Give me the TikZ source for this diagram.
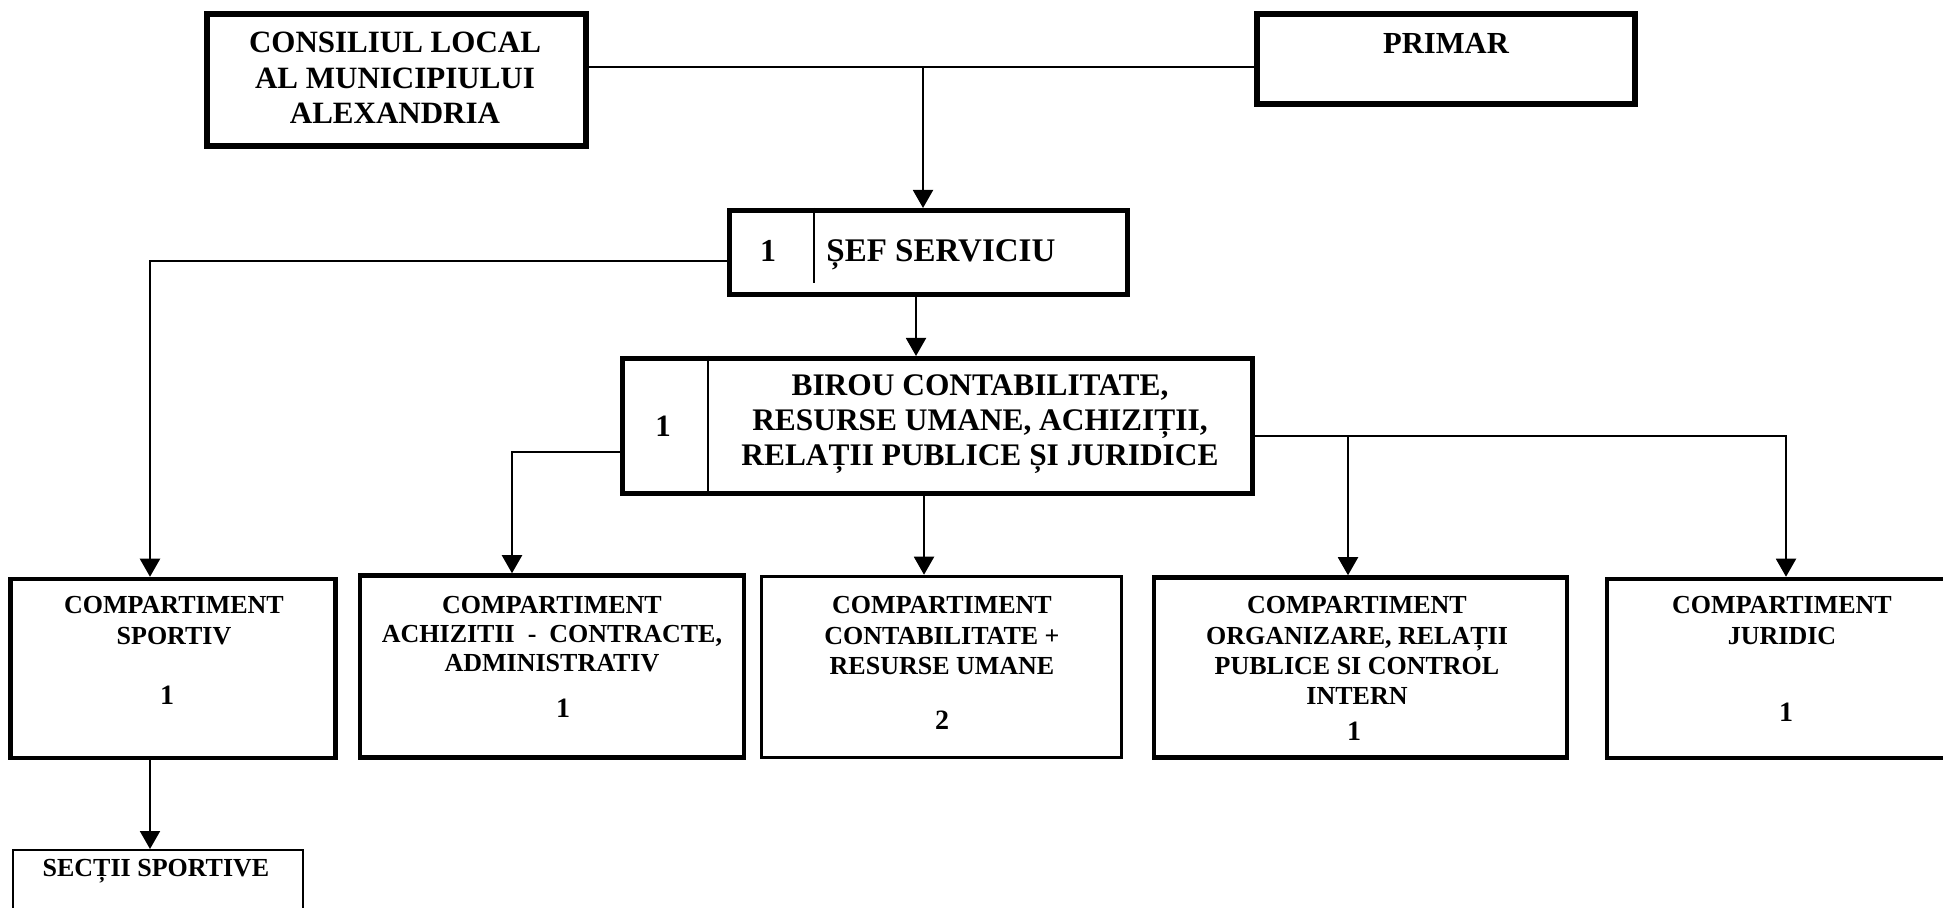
\documentclass[tikz,border=0pt]{standalone}
\usepackage{fontspec}
\setmainfont{Liberation Serif}
\usetikzlibrary{arrows.meta}
\begin{document}
\begin{tikzpicture}[x=0.5pt,y=-0.5pt,
  boxbase/.style={draw, rectangle, inner sep=0pt},
  bA/.style={boxbase, line width=3pt},
  bB/.style={boxbase, line width=2.5pt},
  bC/.style={boxbase, line width=2.5pt},
  bD/.style={boxbase, line width=2.25pt},
  bF/.style={boxbase, line width=1.75pt},
  bG/.style={boxbase, line width=1pt},
  conn/.style={line width=1pt},
  arr/.style={line width=1pt, -{Triangle[width=10pt,length=9pt]}},
  divline/.style={line width=1.2pt},
  uptext/.style={inner sep=0pt, align=center, font=\bfseries\fontsize{15.5}{17.75}\selectfont},
  lowtext/.style={inner sep=0pt, align=center, font=\bfseries\fontsize{13}{15.2}\selectfont},
  numtext/.style={inner sep=0pt, anchor=base, font=\bfseries\fontsize{14}{16}\selectfont}
]
\useasboundingbox (0,0) rectangle (1943,908);
\clip (0,0) rectangle (1943,908);

% boxes
\node[bA, minimum width=189.5pt, minimum height=66pt] (cons) at (396.5,80) {};
\node[bA, minimum width=189pt, minimum height=45pt] (prim) at (1446,59) {};
\node[bB, minimum width=199pt, minimum height=42pt] (sef) at (928.5,252.5) {};
\node[bC, minimum width=315pt, minimum height=67.5pt] (birou) at (937.5,426) {};
\node[bD, minimum width=162.5pt, minimum height=89.5pt] (sport) at (173,668.5) {};
\node[bD, minimum width=192pt, minimum height=91pt] (achiz) at (552,666.5) {};
\node[bF, minimum width=180pt, minimum height=90.5pt] (contab) at (941.5,667) {};
\node[bD, minimum width=206.5pt, minimum height=90pt] (organiz) at (1360.5,667.5) {};
\node[bD, minimum width=171.5pt, minimum height=89.5pt] (jurid) at (1778.5,668.5) {};
\node[bG, minimum width=145pt, minimum height=40pt] (sectii) at (158,890) {};

% dividers
\coordinate (sefdiv) at (814,283);
\draw[divline] (sef.north -| sefdiv) -- (sefdiv);
\coordinate (biroudiv) at (708,426);
\draw[divline] (birou.north -| biroudiv) -- (birou.south -| biroudiv);

% texts
\node[uptext, anchor=north] (tcons) at (395,32) {CONSILIUL LOCAL\\AL MUNICIPIULUI\\ALEXANDRIA};
\node[uptext, anchor=base, font=\bfseries\fontsize{15.3}{17}\selectfont] (tprim) at (1446,53.5) {PRIMAR};
\node[uptext, anchor=base, font=\bfseries\fontsize{16}{18}\selectfont] (tsef1) at (768,262) {1};
\node[uptext, anchor=base west, font=\bfseries\fontsize{16.5}{18}\selectfont] (tsef) at (826,262) {ȘEF SERVICIU};
\node[uptext, anchor=north, font=\bfseries\fontsize{15.7}{17.5}\selectfont] (tbirou) at (980,374) {BIROU CONTABILITATE,\\RESURSE UMANE, ACHIZIȚII,\\RELAȚII PUBLICE ȘI JURIDICE};
\node[uptext, anchor=base] (tbirou1) at (663,437) {1};

\node[lowtext, anchor=north] (tsport) at (174,596) {COMPARTIMENT\\SPORTIV};
\node[numtext] (nsport) at (167,704.5) {1};
\node[lowtext, anchor=north, font=\bfseries\fontsize{13}{14.4}\selectfont] (tachiz) at (552,596) {COMPARTIMENT\\ACHIZITII\ \ -\ \ CONTRACTE,\\ADMINISTRATIV};
\node[numtext] (nachiz) at (563,717) {1};
\node[lowtext, anchor=north] (tcontab) at (942,596) {COMPARTIMENT\\CONTABILITATE +\\RESURSE UMANE};
\node[numtext] (ncontab) at (942,729.5) {2};
\node[lowtext, anchor=north] (torg) at (1357,596) {COMPARTIMENT\\ORGANIZARE, RELAȚII\\PUBLICE SI CONTROL\\INTERN};
\node[numtext] (norg) at (1354,740.5) {1};
\node[lowtext, anchor=north] (tjur) at (1782,596) {COMPARTIMENT\\JURIDIC};
\node[numtext] (njur) at (1786,721.5) {1};
\node[lowtext, anchor=base] (tsectii) at (156,876) {SECȚII SPORTIVE};

% connectors
\coordinate (j1) at (923,67);
\draw[conn] (cons.east |- j1) -- (prim.west |- j1);
\draw[arr] (j1) -- (sef.north -| j1);
\coordinate (j2) at (150,261);
\draw[arr] (sef.west |- j2) -- (j2) -- (sport.north -| j2);
\coordinate (j3) at (916,300);
\draw[arr] (sef.south -| j3) -- (birou.north -| j3);
\coordinate (j4) at (512,452);
\draw[arr] (birou.west |- j4) -- (j4) -- (achiz.north -| j4);
\coordinate (j5) at (924,500);
\draw[arr] (birou.south -| j5) -- (contab.north -| j5);
\coordinate (j6) at (1348,436);
\coordinate (j7) at (1786,436);
\draw[arr] (birou.east |- j7) -- (j7) -- (jurid.north -| j7);
\draw[arr] (j6) -- (organiz.north -| j6);
\coordinate (j8) at (150,770);
\draw[arr] (sport.south -| j8) -- (sectii.north -| j8);
\end{tikzpicture}
\end{document}
